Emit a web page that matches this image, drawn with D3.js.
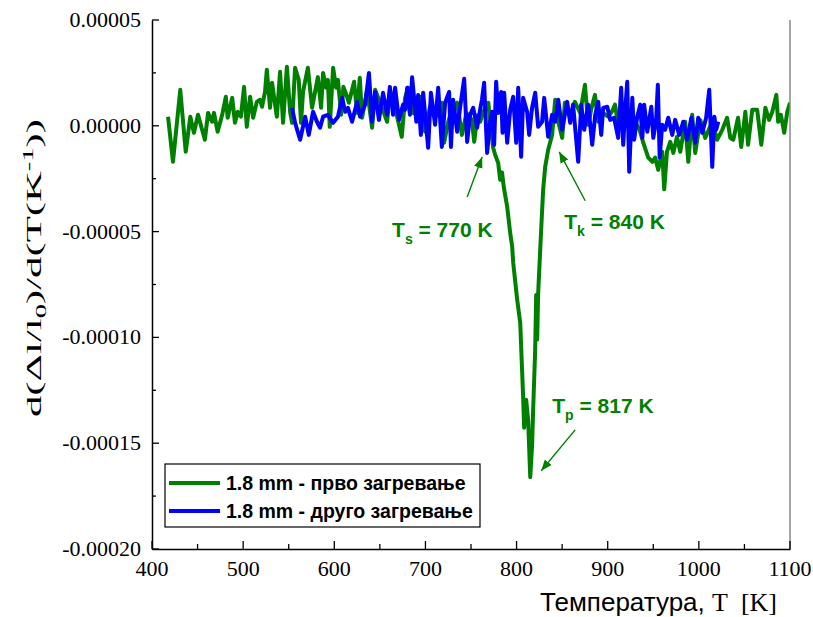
<!DOCTYPE html>
<html>
<head>
<meta charset="utf-8">
<script src="https://cdn.jsdelivr.net/npm/d3@7/dist/d3.min.js"></script>
<style>
  html, body { margin: 0; padding: 0; background: #fff; }
  svg { display: block; }
</style>
</head>
<body>
<svg id="chart" width="813" height="617"></svg>
<script>
// Values in units of 1e-5
const greenT = [417.6,423,431,437,442,446,450.5,455,458,461.5,466,468,472,477,481,483,488,491,494,497.5,501,504,507.6,511,515,518.5,520.7,524,526,529.5,531.7,534,537,540.5,543.8,548,551.5,553.7,557,561,563.5,565.7,571,575.6,582,585.5,587.7,591,593,595,598.7,602,604,607.5,610,614,616,621.7,625,628,630.5,636,641.5,644.8,650,658,661,669,674,677.7,681,687,694,699.7,705,710.6,718,720.5,725,730,734.8,740,745,751,753.5,757,760,765,769,771,774.3,776.5,779.8,782,784,786,789.7,793,795.2,796.3,800.7,804,807.2,808.3,810.5,812.7,815,817,818.2,820.4,821.5,822.6,823.7,827,829.2,831.4,834.7,839,842.4,845.7,850,853,858.8,864,869.8,875,878.6,882,886,889.6,895,900.5,905,908,911.5,916,922,930,935,939,944.5,949,952,955.4,959.8,962,965,968.6,972,976,979.6,985,988.4,992.7,996,1001.5,1007,1014.7,1020,1025.7,1031,1034.5,1037.8,1043,1046.5,1051,1054,1058.6,1064,1068.5,1073,1077,1080.6,1085,1087,1090,1093.7,1097,1100];
const greenV = [0.43,-1.7,1.7,-1.23,0.43,-0.33,0.52,-0.19,-0.66,0.61,0.19,0.61,-0.28,0.52,1.37,0.38,1.32,0.14,0.66,0.43,1.84,-0.05,1.37,0.38,1.13,1.23,0.9,1.6,2.65,0.85,2.03,1.32,0.43,2.55,0.14,2.79,0.66,0.14,2.74,2.17,0.14,1.6,2.74,0.85,2.3,0.85,2.5,1.8,2.17,-0.05,2.74,1.8,2.17,0.52,1.84,1.37,1.09,2.08,0.61,2.27,0.38,1.7,-0.09,1.7,1.13,0.19,1.7,0.43,-0.52,1.32,1.8,0.6,1.37,-0.28,0.9,0.38,1.09,-0.8,0.19,0.9,1.09,-0.43,0.6,0.28,-0.76,0.5,0.19,0.8,1.09,0.19,-1.04,-1.37,-1.75,-2.55,-2.2,-2.9,-3.83,-5.06,-5.72,-6.47,-8.22,-9.31,-12.8,-14.27,-12.95,-13.9,-16.6,-15.1,-13.4,-10.6,-8.0,-10.1,-7.9,-4.9,-3.0,-1.94,-1.13,-0.43,1.23,0.19,-0.57,1.09,0.43,1.13,0.61,1.94,0.05,0.8,1.46,0.19,0.6,0.43,0.7,1.0,0.05,0.19,0.5,0.19,-0.2,-0.8,-1.5,-1.7,-1.5,-2.08,-1.23,-3.0,-1.23,-0.76,-1.28,-0.52,-1.23,0.19,-1.7,0.52,-1.28,0.28,-0.57,0.19,-0.66,-0.19,0.38,-0.57,-0.66,0.38,-1.0,0.66,-0.9,0.76,0.76,-0.9,0.85,0.28,0.66,1.46,0.19,0.52,-0.33,0.66,1.09];

const blueT = [553.7,557,562.5,568,572,576.7,581,584.4,587.7,593,598.7,604,608.6,612,615,619.5,625,628.3,633.8,638,641.5,644.8,649,653.5,658,661,664.5,666.7,671,675.5,677.7,680,683,685.4,690,692,695,697.5,703,706,710.6,714,718,721.6,726,728,730.4,734.8,738,742.5,745.8,749,752.4,756.7,760,762,764.4,767.7,771,773.2,775.4,777.6,779.8,783,784.6,786.4,789.7,793,796.3,799.6,801.8,805,807.2,811.6,813.8,817,820.4,823.7,828,830.3,834.7,839,842.4,845.7,850,855.5,858.8,862,867.6,871,874.2,878.6,883,886.3,889.6,892.9,895,899.5,902.7,907,911.5,914.8,917,919,921.4,923.6,927,929,932.4,935.7,938,940,943.4,947.8,950,953,955,957,959.8,963,966.4,970.8,974,978.5,982.9,987.3,991.7,996,999.3,1003.7,1008,1011.4,1014.7,1017,1019,1021.3];
const blueV = [0.85,0.14,-0.66,0.43,-0.43,0.66,0.19,-0.09,0.43,0.52,0.14,0.43,1.32,0.66,0.85,0.19,1.13,0.43,1.0,2.5,0.19,1.6,0.28,1.56,0.52,1.84,0.52,1.8,0.28,1.0,0.76,1.8,0.52,2.3,0.19,1.46,-0.43,1.56,-1.04,1.56,0.05,1.8,-1.0,1.09,1.6,-1.0,1.23,-0.28,0.85,2.22,-0.76,0.52,0.85,-0.09,0.76,1.23,2.03,-1.28,0.19,0.66,-0.9,2.08,0.61,1.6,-0.33,1.56,-0.8,0.76,1.37,-0.8,1.8,-1.46,1.32,0.66,-0.43,0.85,1.56,-0.05,0.19,1.32,-0.52,0.52,0.19,1.23,-0.19,1.13,0.14,1.0,-1.7,1.0,-0.19,1.0,-0.9,0.52,1.13,-0.43,0.85,0.9,0.28,0.38,-0.57,1.8,-0.9,0.61,2.08,-2.17,1.32,-0.66,0.43,1.0,-0.57,1.0,-0.28,0.9,-0.57,0.19,1.94,-1.5,0.05,-0.19,0.38,-0.43,0.28,-0.43,0.19,-0.66,0.38,-0.8,0.38,-0.33,0.38,1.7,-1.94,0.43,-0.19,0.19];

const xTicks = [400,500,600,700,800,900,1000,1100];
const yTicks = [5,0,-5,-10,-15,-20];
const yTickLabels = ["0.00005","0.00000","-0.00005","-0.00010","-0.00015","-0.00020"];
const seriesNames = ["1.8 mm - прво загревање","1.8 mm - друго загревање"];
const annotations = [
  {main:"T", sub:"s", rest:" = 770 K", tx:663.4, tv:-5.25, ax0:745.8, av0:-3.36, ax1:762.2, av1:-1.47},
  {main:"T", sub:"k", rest:" = 840 K", tx:852.3, tv:-4.9, ax0:875.3, av0:-3.54, ax1:846.8, av1:-1.23},
  {main:"T", sub:"p", rest:" = 817 K", tx:839.1, tv:-13.56, ax0:864.3, av0:-14.37, ax1:827, av1:-16.3}
];

const GREEN = "#008000", BLUE = "#0000ff";
const SERIF = "'Liberation Serif', 'Times New Roman', serif";
const SANS = "'Liberation Sans', Arial, sans-serif";
const L = 152, R = 790, T = 20, B = 549;
const svg = d3.select("#chart");
const x = d3.scaleLinear().domain([400,1100]).range([L,R]);
const y = d3.scaleLinear().domain([-20,5]).range([B,T]);

const defs = svg.append("defs");
defs.append("clipPath").attr("id","clip")
  .append("rect").attr("x",L).attr("y",T).attr("width",R-L).attr("height",B-T);

const line = d3.line().x(d=>x(d[0])).y(d=>y(d[1]));
const gData = greenT.map((t,i)=>[t,greenV[i]]);
const bData = blueT.map((t,i)=>[t,blueV[i]]);

const plot = svg.append("g").attr("clip-path","url(#clip)");
plot.append("path").datum(gData).attr("d",line).attr("fill","none")
  .attr("stroke",GREEN).attr("stroke-width",4).attr("stroke-linejoin","round");
plot.append("path").datum(bData).attr("d",line).attr("fill","none")
  .attr("stroke",BLUE).attr("stroke-width",4).attr("stroke-linejoin","round");

// right border
svg.append("line").attr("x1",R).attr("x2",R).attr("y1",T).attr("y2",B)
  .attr("stroke","#888").attr("stroke-width",1.5);

// axes lines via d3 axis
const xAxisG = svg.append("g").attr("transform",`translate(0,${B})`);
xAxisG.call(d3.axisBottom(x).tickValues([]).tickSizeOuter(0));
xAxisG.select(".domain").attr("stroke","#000").attr("stroke-width",1.5);
const yAxisG = svg.append("g").attr("transform",`translate(${L},0)`);
yAxisG.call(d3.axisLeft(y).tickValues([]).tickSizeOuter(0));
yAxisG.select(".domain").attr("stroke","#000").attr("stroke-width",1.5);

// inward ticks
const tk = svg.append("g");
tk.selectAll(".xt").data(d3.range(400,1101,50)).enter().append("line")
  .attr("x1",d=>x(d)).attr("x2",d=>x(d)).attr("y1",B).attr("y2",d=>B-(d%100===0?8:5))
  .attr("stroke","#000").attr("stroke-width",1.3);
tk.selectAll(".yt").data(d3.range(-20,5.1,2.5)).enter().append("line")
  .attr("x1",L).attr("x2",d=>L+(Math.abs(d%5)<1e-9?7:4)).attr("y1",d=>y(d)).attr("y2",d=>y(d))
  .attr("stroke","#000").attr("stroke-width",1.3);

// tick labels
const lab = svg.append("g").attr("font-family",SERIF).attr("font-size",22).attr("fill","#000");
lab.selectAll(".xl").data(xTicks).enter().append("text")
  .attr("x",d=>x(d)).attr("y",B+27).attr("text-anchor","middle").text(d=>d);
lab.selectAll(".yl").data(yTicks).enter().append("text")
  .attr("x",L-11).attr("y",d=>y(d)+7).attr("text-anchor","end")
  .text((d,i)=>yTickLabels[i]);

// y title
const yt = svg.append("text").attr("transform","translate(41,268) rotate(-90)")
  .attr("text-anchor","middle").attr("font-family",SERIF).attr("font-size",21)
  .attr("textLength",298).attr("lengthAdjust","spacingAndGlyphs");
yt.append("tspan").text("d(Δl/l");
yt.append("tspan").attr("font-size",14).attr("dy",5).text("0");
yt.append("tspan").attr("dy",-5).text(")/d(T(K");
yt.append("tspan").attr("font-size",14).attr("dy",-8).text("-1");
yt.append("tspan").attr("dy",8).text("))");

// x title
const xt = svg.append("text").attr("x",777).attr("y",611).attr("text-anchor","end").attr("font-size",26);
xt.append("tspan").attr("font-family",SANS).text("Температура, ");
xt.append("tspan").attr("font-family",SERIF).text("T\u00a0 [K]");

// annotations
defs.append("marker").attr("id","ah").attr("viewBox","0 0 10 10").attr("refX",10).attr("refY",5)
  .attr("markerWidth",11).attr("markerHeight",11).attr("markerUnits","userSpaceOnUse").attr("orient","auto")
  .append("path").attr("d","M0,1 L10,5 L0,9 Z").attr("fill",GREEN);
annotations.forEach(a=>{
  svg.append("line").attr("x1",x(a.ax0)).attr("y1",y(a.av0)).attr("x2",x(a.ax1)).attr("y2",y(a.av1))
    .attr("stroke",GREEN).attr("stroke-width",1.4).attr("marker-end","url(#ah)");
  const t = svg.append("text").attr("x",x(a.tx)).attr("y",y(a.tv)).attr("fill",GREEN)
    .attr("font-family",SANS).attr("font-weight","bold").attr("font-size",21);
  t.append("tspan").text(a.main);
  t.append("tspan").attr("font-size",14).attr("dy",7).text(a.sub);
  t.append("tspan").attr("dy",-7).text(a.rest);
});

// legend
const lg = svg.append("g");
lg.append("rect").attr("x",165).attr("y",464).attr("width",315).attr("height",63)
  .attr("fill","#fff").attr("stroke","#000").attr("stroke-width",1.2);
[GREEN,BLUE].forEach((c,i)=>{
  const yy = 483 + i*28;
  lg.append("line").attr("x1",169).attr("x2",220).attr("y1",yy).attr("y2",yy)
    .attr("stroke",c).attr("stroke-width",4);
  lg.append("text").attr("x",226).attr("y",yy+7).attr("font-family",SANS)
    .attr("font-weight","bold").attr("font-size",19.5).text(seriesNames[i]);
});
</script>
</body>
</html>
